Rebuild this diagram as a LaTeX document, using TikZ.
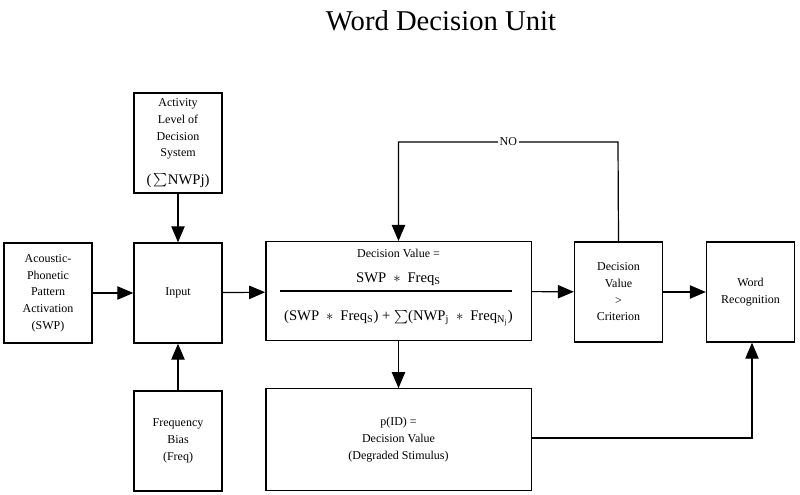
\documentclass[tikz,border=0pt]{standalone}
\usepackage{fontspec}
\setmainfont{Liberation Serif}
\usetikzlibrary{arrows.meta}
\begin{document}
\begin{tikzpicture}[
  x=0.75pt, y=-0.75pt,
  font=\fontsize{9}{12.5}\selectfont,
  block/.style={draw, line width=1pt, align=center, inner sep=2pt},
  small/.style={block, minimum width=66pt, minimum height=75pt},
  wide/.style={block, minimum width=199pt, minimum height=74pt},
  flow/.style={-{Triangle[length=12pt, width=10pt]}, line width=0.9pt},
  wire/.style={line width=0.9pt}
]
\useasboundingbox (0,0) rectangle (800,495);

\node[font=\fontsize{21.5}{24}\selectfont] (title) at (441,21) {Word Decision Unit};

\node[small] (act) at (178,143) {Activity\\Level of\\Decision\\System\\[8pt]{\fontsize{11}{13}\selectfont(\,$\sum$NWPj)}};
\node[small] (aco) at (48,293) {Acoustic-\\Phonetic\\Pattern\\Activation\\(SWP)};
\node[small] (inp) at (178,293) {Input};
\node[small] (freq) at (178,441) {Frequency\\Bias\\(Freq)};

\node[wide] (dec) at (398.5,291) {};
\node (dtop) at (398.5,253) {Decision Value =};
\node[font=\fontsize{11}{13}\selectfont] (dnum) at (398.5,279) {SWP ${}\ast{}$ Freq\textsubscript{S}};
\node[font=\fontsize{11}{13}\selectfont] (dden) at (398.5,318) {(SWP ${}\ast{}$ Freq\textsubscript{S}) + $\sum$(NWP\textsubscript{j} ${}\ast{}$ Freq\textsubscript{N\textsubscript{j}})};
\coordinate (barl) at (280,291);
\coordinate (barr) at (512,291);
\draw[wire] (barl) -- (barr);

\node[wide, minimum height=76pt] (pid) at (398.5,439.5) {p(ID) =\\Decision Value\\(Degraded Stimulus)};
\node[small] (crit) at (618.5,292) {Decision\\Value\\>\\Criterion};
\node[small] (word) at (750.5,292) {Word\\Recognition};

\coordinate (noright) at (618,142);
\coordinate (noleft) at (398.5,142);
\coordinate (turn) at (752,438);

\draw[flow] (aco) -- (inp);
\draw[flow] (act) -- (inp);
\draw[flow] (freq) -- (inp);
\draw[flow] (inp) -- (dec);
\draw[flow] (dec) -- (crit);
\draw[flow] (crit) -- (word);
\draw[flow] (dec) -- (pid);
\draw[flow] (crit.north) -- (noright) -- node[fill=white, inner sep=1.5pt, pos=0.5] (no) {NO} (noleft) -- (dec.north);
\draw[flow] (pid.east |- turn) -- (turn) -- (word.south -| turn);
\end{tikzpicture}
\end{document}
